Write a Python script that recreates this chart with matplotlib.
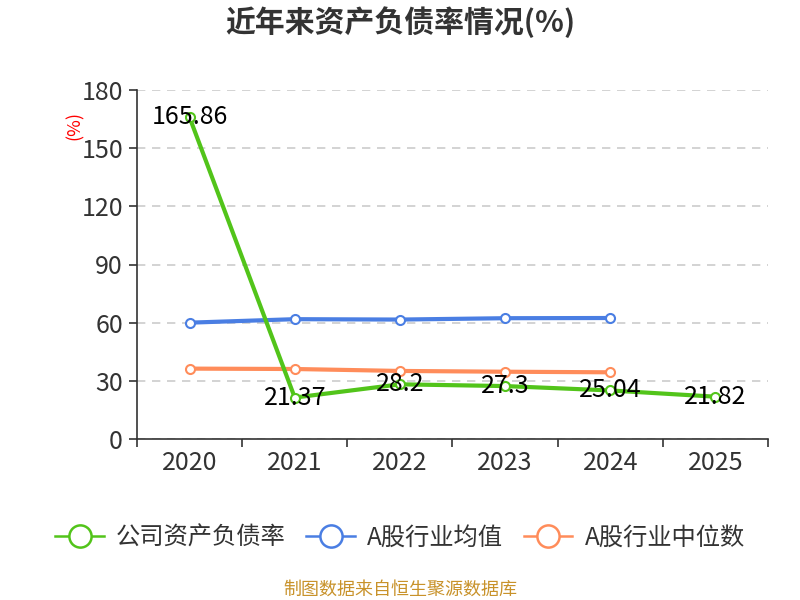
import matplotlib
matplotlib.use("Agg")
import matplotlib.pyplot as plt
from matplotlib.lines import Line2D

plt.rcParams['font.family'] = ['Noto Sans CJK SC', 'DejaVu Sans']

years = ['2020', '2021', '2022', '2023', '2024', '2025']
company = [165.86, 21.37, 28.2, 27.3, 25.04, 21.82]
industry_avg = [60.0, 61.8, 61.6, 62.3, 62.4]
industry_median = [36.3, 36.1, 35.1, 34.7, 34.4]
yticks = [0, 30, 60, 90, 120, 150, 180]

green = '#52c41a'
blue = '#4a7ee3'
orange = '#ff8c5a'

fig = plt.figure(figsize=(8, 6), dpi=100)
ax = fig.add_axes([137/800, 1-439/600, (768-137)/800, (439-90)/600])

x = list(range(len(years)))
ax.plot(x[:len(industry_avg)], industry_avg, color=blue, lw=3, marker='o', ms=6.5,
        mfc='white', mec=blue, mew=1.5, zorder=3)
ax.plot(x[:len(industry_median)], industry_median, color=orange, lw=3, marker='o', ms=6.5,
        mfc='white', mec=orange, mew=1.5, zorder=3)
ax.plot(x, company, color=green, lw=3, marker='o', ms=6.5,
        mfc='white', mec=green, mew=1.5, zorder=4)
for xi, v in zip(x, company):
    ax.text(xi, v, f'{v:g}', ha='center', va='center', fontsize=18, color='black', zorder=5)

ax.set_xlim(-0.5, len(years)-0.5)
ax.set_ylim(0, 180)
ax.set_yticks(yticks)
ax.set_yticklabels([str(t) for t in yticks], fontsize=18, color='#333333')
ax.set_xticks(x)
ax.set_xticklabels(years, fontsize=18, color='#333333')
ax.set_xticks([i - 0.5 for i in range(len(years)+1)], minor=True)
ax.tick_params(axis='x', which='major', length=0, pad=8)
ax.tick_params(axis='x', which='minor', length=6, color='#333333', width=1.2)
ax.tick_params(axis='y', length=6, color='#333333', width=1.2, pad=4)
ax.grid(axis='y', linestyle=(0, (5, 4)), color='#cccccc', lw=1.2)
for s in ['top', 'right']:
    ax.spines[s].set_visible(False)
ax.spines['left'].set_color('#333333')
ax.spines['bottom'].set_color('#333333')
ax.spines['left'].set_linewidth(1.2)
ax.spines['bottom'].set_linewidth(1.2)

fig.text(75/800, 1-125/600, '(%)', rotation=90, color='red', fontsize=13, ha='center', va='center')

fig.text(0.5, 1-22/600, '近年来资产负债率情况(%)', ha='center', va='center', fontsize=21.5,
         fontweight='bold', color='#333333')

handles = [Line2D([0], [0], color=c, lw=1.8, marker='o', ms=16, mfc='white', mec=c, mew=1.8)
           for c in (green, blue, orange)]
fig.legend(handles, ['公司资产负债率', 'A股行业均值', 'A股行业中位数'], loc='center',
           bbox_to_anchor=(0.5, 1-538/600), ncol=3, frameon=False, fontsize=17.5,
           handlelength=2.0, columnspacing=0.85, handletextpad=0.5, labelcolor='#333333')

fig.text(0.5, 1-590/600, '制图数据来自恒生聚源数据库', ha='center', va='center', fontsize=13,
         color='#c8922a')

fig.savefig('out.png', dpi=100)
